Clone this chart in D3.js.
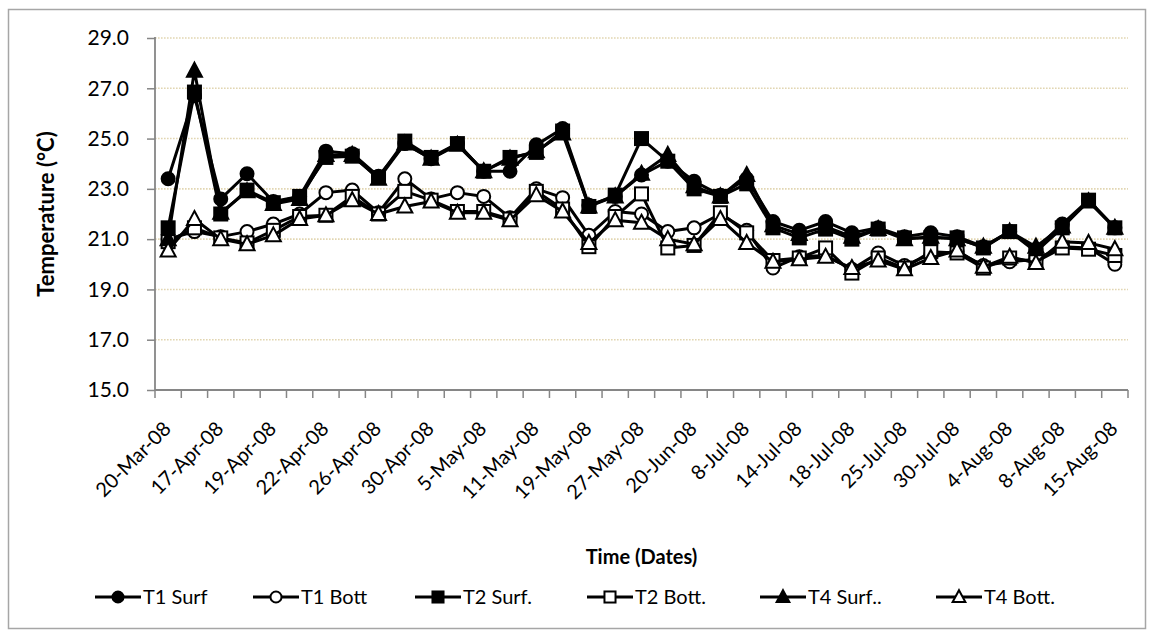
<!DOCTYPE html>
<html><head><meta charset="utf-8">
<script src="https://cdn.jsdelivr.net/npm/d3@7"></script>
<style>body{margin:0;background:#fff}text{font-family:Lato,"Open Sans",sans-serif;fill:#000}</style>
</head><body>
<svg id="c" width="1154" height="637"></svg>
<script>
const categories=["20-Mar-08","15-Apr-08","17-Apr-08","18-Apr-08","19-Apr-08","21-Apr-08","22-Apr-08","24-Apr-08","26-Apr-08","28-Apr-08","30-Apr-08","2-May-08","5-May-08","8-May-08","11-May-08","15-May-08","19-May-08","23-May-08","27-May-08","10-Jun-08","20-Jun-08","1-Jul-08","8-Jul-08","11-Jul-08","14-Jul-08","16-Jul-08","18-Jul-08","22-Jul-08","25-Jul-08","28-Jul-08","30-Jul-08","1-Aug-08","4-Aug-08","6-Aug-08","8-Aug-08","12-Aug-08","15-Aug-08"];
const t1Surf=[23.4,26.7,22.6,23.6,22.5,22.7,24.5,24.4,23.5,24.8,24.2,24.8,23.7,23.7,24.75,25.4,22.35,22.7,23.55,24.1,23.3,22.75,23.4,21.7,21.35,21.7,21.25,21.45,21.1,21.25,21.1,20.7,21.3,20.6,21.6,22.55,21.45];
const t1Bott=[21.0,21.3,21.1,21.3,21.6,22.0,22.85,22.95,22.05,23.4,22.6,22.85,22.7,21.85,23.0,22.65,21.15,22.1,22.0,21.3,21.45,22.0,21.35,19.85,20.3,20.35,19.8,20.45,19.95,20.4,20.5,19.95,20.1,20.2,20.7,20.65,20.0];
const t2Surf=[21.45,26.85,22.0,22.95,22.45,22.7,24.25,24.3,23.45,24.9,24.25,24.8,23.7,24.25,24.45,25.3,22.3,22.75,25.0,24.1,23.0,22.7,23.2,21.45,21.05,21.4,21.0,21.4,21.05,21.05,21.05,20.65,21.3,20.5,21.45,22.55,21.45];
const t2Bott=[20.9,21.45,21.05,20.85,21.35,21.9,21.95,22.7,22.0,22.9,22.55,22.1,22.1,21.8,22.9,22.2,20.7,21.9,22.8,20.65,20.75,22.05,21.25,20.15,20.25,20.65,19.65,20.25,19.85,20.5,20.45,19.85,20.25,20.1,20.65,20.6,20.35];
const t4Surf=[21.0,27.7,22.05,22.9,22.4,22.6,24.35,24.35,23.4,24.8,24.2,24.75,23.7,24.2,24.5,25.2,22.3,22.7,23.6,24.35,23.1,22.7,23.55,21.55,21.2,21.5,21.1,21.4,21.0,21.1,21.0,20.7,21.3,20.7,21.5,22.5,21.45];
const t4Bott=[20.55,21.8,21.0,20.8,21.15,21.8,21.95,22.55,22.0,22.3,22.5,22.05,22.05,21.75,22.75,22.1,20.85,21.75,21.65,21.0,20.8,21.8,20.85,20.1,20.2,20.3,19.85,20.15,19.8,20.25,20.55,19.9,20.3,20.05,20.9,20.85,20.6];
const seriesNames=["T1 Surf","T1 Bott","T2 Surf.","T2 Bott.","T4 Surf..","T4 Bott."];
const yTicks=[15,17,19,21,23,25,27,29];

const series=[
 {name:seriesNames[0],values:t1Surf,shape:"circle",fill:"#000"},
 {name:seriesNames[1],values:t1Bott,shape:"circle",fill:"#fff"},
 {name:seriesNames[2],values:t2Surf,shape:"square",fill:"#000"},
 {name:seriesNames[3],values:t2Bott,shape:"square",fill:"#fff"},
 {name:seriesNames[4],values:t4Surf,shape:"triangle",fill:"#000"},
 {name:seriesNames[5],values:t4Bott,shape:"triangle",fill:"#fff"}
];

const svg=d3.select("#c");
const L=155,R=1128,T=38,B=390;
const x=d3.scaleBand().domain(categories).range([L,R]).padding(0);
const y=d3.scaleLinear().domain([15,29]).range([B,T]);
const cx=c=>x(c)+x.bandwidth()/2;

// chart border
svg.append("rect").attr("x",8.5).attr("y",9.5).attr("width",1137).attr("height",619)
  .attr("fill","#fff").attr("stroke","#a6a6a6").attr("stroke-width",1.5);

// gridlines
svg.append("g").selectAll("line").data(yTicks.filter(t=>t>15)).join("line")
  .attr("x1",L).attr("x2",R).attr("y1",d=>y(d)).attr("y2",d=>y(d))
  .attr("stroke","#e2d6b2").attr("stroke-width",1.6).attr("stroke-dasharray","1.6,1.4");

// y axis
const yAxis=d3.axisLeft(y).tickValues(yTicks).tickFormat(d3.format(".1f")).tickSize(8).tickPadding(18);
const gy=svg.append("g").attr("transform",`translate(${L},0)`).call(yAxis);
gy.select(".domain").remove();
gy.selectAll(".tick line").attr("stroke","#868686").attr("stroke-width",1.5);
gy.selectAll(".tick text").style("font-size","21px").attr("font-family","Lato");
svg.append("line").attr("x1",L).attr("x2",L).attr("y1",T-1).attr("y2",B).attr("stroke","#868686").attr("stroke-width",1.8);

// x axis
const bounds=categories.map(c=>x(c)).concat([R]);
svg.append("g").selectAll("line").data(bounds).join("line")
  .attr("x1",d=>d).attr("x2",d=>d).attr("y1",B).attr("y2",B+8)
  .attr("stroke","#868686").attr("stroke-width",1.5);
svg.append("line").attr("x1",L).attr("x2",R).attr("y1",B).attr("y2",B).attr("stroke","#868686").attr("stroke-width",1.8);
svg.append("g").selectAll("text").data(categories.filter((c,i)=>i%2===0)).join("text")
  .attr("transform",d=>`translate(${cx(d)+4},${B+40}) rotate(-45)`)
  .attr("text-anchor","end").style("font-size","20px").text(d=>d);

// axis titles
svg.append("text").attr("transform",`translate(54,${(T+B)/2}) rotate(-90)`).attr("text-anchor","middle")
  .style("font-size","22px").style("font-weight","bold").text("Temperature (°C)");
svg.append("text").attr("x",(L+R)/2).attr("y",564).attr("text-anchor","middle")
  .style("font-size","20px").style("font-weight","bold").text("Time (Dates)");

function marker(g,shape,fill,px,py,s){
  let m;
  if(shape==="circle") m=g.append("circle").attr("cx",px).attr("cy",py).attr("r",6.5*s);
  else if(shape==="square") m=g.append("rect").attr("x",px-6.5*s).attr("y",py-6.5*s).attr("width",13*s).attr("height",13*s);
  else m=g.append("path").attr("d",`M${px},${py-8*s}L${px+7.5*s},${py+6*s}L${px-7.5*s},${py+6*s}Z`);
  m.attr("fill",fill).attr("stroke","#000").attr("stroke-width",2);
}

const line=d3.line().x((d,i)=>cx(categories[i])).y(d=>y(d));
series.forEach(s=>{
  const g=svg.append("g");
  g.append("path").attr("d",line(s.values)).attr("fill","none").attr("stroke","#000").attr("stroke-width",3).attr("stroke-linejoin","round");
  s.values.forEach((v,i)=>marker(g,s.shape,s.fill,cx(categories[i]),y(v),1));
});

// legend
const legX=[95,253,415,587,760,936];
const ly=597;
series.forEach((s,i)=>{
  const g=svg.append("g");
  g.append("line").attr("x1",legX[i]).attr("x2",legX[i]+46).attr("y1",ly).attr("y2",ly).attr("stroke","#000").attr("stroke-width",3);
  marker(g,s.shape,s.fill,legX[i]+23,ly,0.85);
  g.append("text").attr("x",legX[i]+48).attr("y",ly+7).style("font-size","20px").text(s.name);
});
</script>
</body></html>
